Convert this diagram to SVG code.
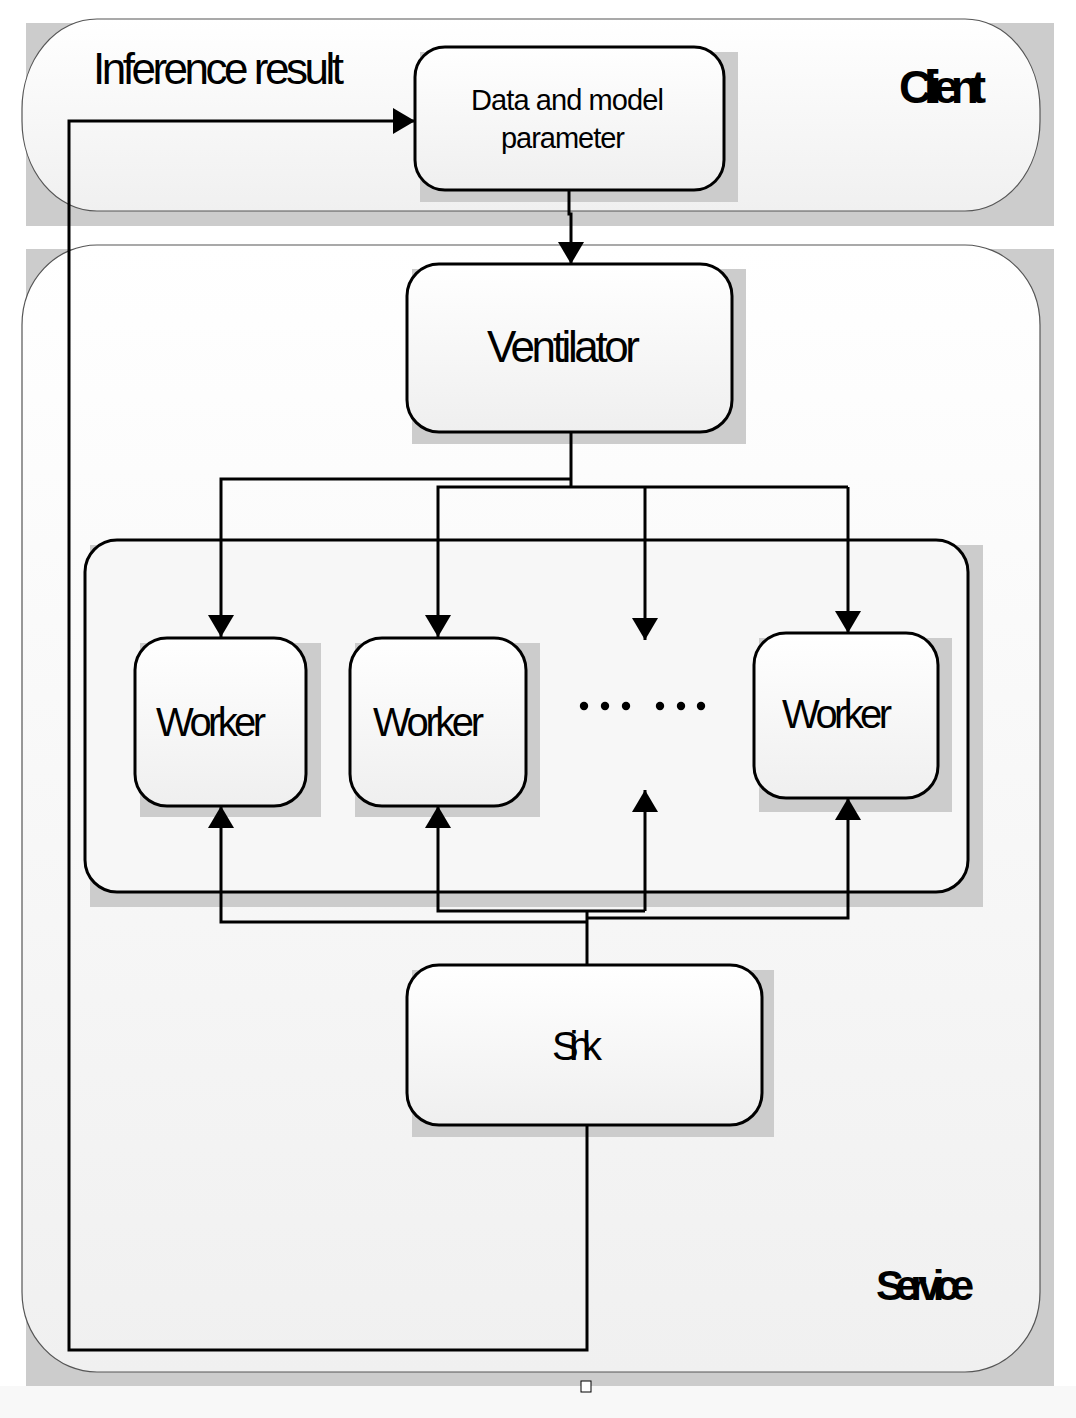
<svg xmlns="http://www.w3.org/2000/svg" width="1076" height="1418" viewBox="0 0 1076 1418">
<defs>
<linearGradient id="gCont" x1="0" y1="0" x2="0" y2="1">
<stop offset="0" stop-color="#ffffff"/>
<stop offset="1" stop-color="#f0f0f0"/>
</linearGradient>
<linearGradient id="gBox" x1="0" y1="0" x2="0" y2="1">
<stop offset="0" stop-color="#ffffff"/>
<stop offset="1" stop-color="#efefef"/>
</linearGradient>
<marker id="arr" markerUnits="userSpaceOnUse" markerWidth="24" markerHeight="26" refX="22" refY="13" orient="auto">
<path d="M0,0 L22,13 L0,26 z" fill="#000"/>
</marker>
<style>
.shadow{fill:#cccccc}
.cont{fill:url(#gCont);stroke:#555;stroke-width:1.2}
.box{fill:url(#gBox);stroke:#000;stroke-width:3}
.wrap{fill:#f7f7f7;stroke:#000;stroke-width:3}
.conn{fill:none;stroke:#000;stroke-width:3}
.t{font-family:"Liberation Sans",Arial,sans-serif;fill:#000}
.b{font-family:"Liberation Sans",Arial,sans-serif;font-weight:bold;fill:#000}
</style>
</defs>
<rect x="0" y="0" width="1076" height="1418" fill="#ffffff"/>
<rect x="0" y="1386" width="1076" height="32" fill="#f8f8f8"/>

<g id="client">
<rect class="shadow" x="26" y="23" width="1028" height="203"/>
<path class="cont" d="M97,19 H965 A75,90 0 0 1 1040,109 V121 A75,90 0 0 1 965,211 H97 A75,90 0 0 1 22,121 V109 A75,90 0 0 1 97,19 z"/>
<text class="t" x="93" y="84" font-size="44" textLength="251" lengthAdjust="spacing">Inference result</text>
<text class="b" x="899" y="103" font-size="46" textLength="87" lengthAdjust="spacing">Client</text>
</g>

<g id="service">
<rect class="shadow" x="26" y="249" width="1028" height="1137"/>
<path class="cont" d="M97,245 H965 A75,80 0 0 1 1040,325 V1292 A75,80 0 0 1 965,1372 H97 A75,80 0 0 1 22,1292 V325 A75,80 0 0 1 97,245 z"/>
<text class="b" x="876" y="1300" font-size="42" textLength="98" lengthAdjust="spacing">Service</text>
</g>

<g id="data">
<rect class="shadow" x="420" y="52" width="318" height="150"/>
<rect class="box" x="415" y="47" width="309" height="143" rx="30" ry="30"/>
<text class="t" x="471" y="110" font-size="29" textLength="193" lengthAdjust="spacing">Data and model</text>
<text class="t" x="501" y="148" font-size="29" textLength="124" lengthAdjust="spacing">parameter</text>
</g>

<g id="ventilator">
<rect class="shadow" x="412" y="269" width="334" height="175"/>
<rect class="box" x="407" y="264" width="325" height="168" rx="32" ry="32"/>
<text class="t" x="487" y="362" font-size="44" textLength="153" lengthAdjust="spacing">Ventilator</text>
</g>

<g id="workers">
<rect class="shadow" x="90" y="545" width="893" height="362"/>
<rect class="wrap" x="85" y="540" width="883" height="352" rx="32" ry="32"/>
</g>

<g id="worker1">
<rect class="shadow" x="140" y="643" width="181" height="174"/>
<rect class="box" x="135" y="638" width="171" height="168" rx="32" ry="32"/>
<text class="t" x="156" y="736" font-size="40" textLength="110" lengthAdjust="spacing">Worker</text>
</g>

<g id="worker2">
<rect class="shadow" x="355" y="643" width="185" height="174"/>
<rect class="box" x="350" y="638" width="176" height="168" rx="32" ry="32"/>
<text class="t" x="373" y="736" font-size="40" textLength="111" lengthAdjust="spacing">Worker</text>
</g>

<g id="dots">
<circle cx="584" cy="706" r="4.2"/>
<circle cx="605" cy="706" r="4.2"/>
<circle cx="626" cy="706" r="4.2"/>
<circle cx="660" cy="706" r="4.2"/>
<circle cx="681" cy="706" r="4.2"/>
<circle cx="701" cy="706" r="4.2"/>
</g>

<g id="worker3">
<rect class="shadow" x="759" y="638" width="193" height="174"/>
<rect class="box" x="754" y="633" width="184" height="165" rx="32" ry="32"/>
<text class="t" x="782" y="728" font-size="40" textLength="110" lengthAdjust="spacing">Worker</text>
</g>

<g id="sink">
<rect class="shadow" x="412" y="970" width="362" height="167"/>
<rect class="box" x="407" y="965" width="355" height="160" rx="32" ry="32"/>
<text class="t" x="552" y="1060" font-size="40" textLength="50" lengthAdjust="spacing">Sink</text>
</g>

<g id="connectors">
<path class="conn" d="M569,190 V214 H571 V264" marker-end="url(#arr)"/>
<path class="conn" d="M571,432 V487"/>
<path class="conn" d="M571,479 H221 V637" marker-end="url(#arr)"/>
<path class="conn" d="M848,487 H438 V637" marker-end="url(#arr)"/>
<path class="conn" d="M645,487 V640" marker-end="url(#arr)"/>
<path class="conn" d="M848,487 V633" marker-end="url(#arr)"/>
<path class="conn" d="M587,965 V911"/>
<path class="conn" d="M587,922 H221 V806" marker-end="url(#arr)"/>
<path class="conn" d="M645,911 H438 V806" marker-end="url(#arr)"/>
<path class="conn" d="M645,911 V790" marker-end="url(#arr)"/>
<path class="conn" d="M587,918 H848 V798" marker-end="url(#arr)"/>
<path class="conn" d="M587,1125 V1350 H69 V121 H415" marker-end="url(#arr)"/>
</g>

<rect x="581" y="1381" width="10" height="11" fill="#fff" stroke="#000" stroke-width="1"/>
</svg>
